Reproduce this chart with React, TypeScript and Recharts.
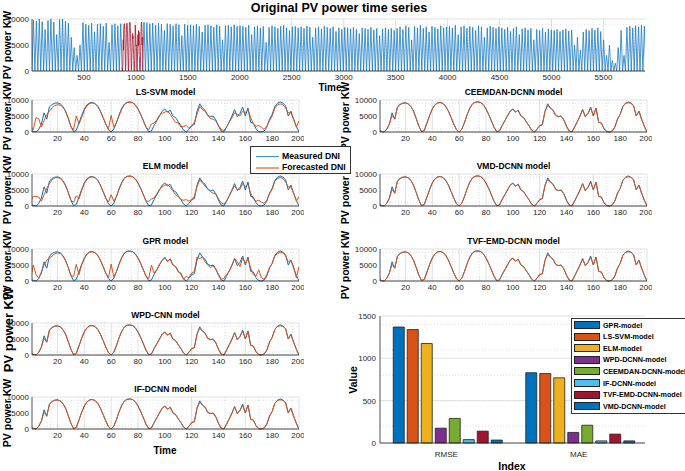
import React from "react";
import { LineChart, Line, XAxis, YAxis, CartesianGrid, BarChart, Bar } from "recharts";

const FONT = '"Liberation Sans", Arial, Helvetica, sans-serif';
const INK = "#262626";
const BLUE = "#0072BD";
const ORANGE = "#D95319";
const DARK_RED = "#A2142F";

// ---- original series: one peak per day (night goes back to 0) ----
const DAY = 28;
const TEST_START = 868;
const peaksBefore = [
  9800, 9600, 10000, 9500, 8000, 9700, 10000, 9400, 7000, 9900, 10000, 9600, 9200, 6500, 4500, 3000,
  5000, 9300, 9000, 8800, 9200, 7500, 9000, 9100, 8600, 9200, 5500, 8900, 9100, 8700, 9100,
];
const peaksAfter = [
  9400, 9300, 9100, 9200, 8800, 9200, 9000, 7800, 9100, 9000, 8700, 9100, 8900, 6800, 9000, 8800,
  8900, 8700, 9000, 8600, 7500, 8800, 8900, 8700, 8400, 8900, 8600, 6000, 8700, 8800, 8500, 8900, 8600, 8700,
  8600, 8400, 8800, 7000, 8500, 8700, 8300, 8600, 5500, 8400, 8700, 8500, 8200, 8600, 8800, 8300, 7800, 8500,
  8600, 8300, 8500, 8200, 8700, 8400, 6500, 8300, 8500, 8100, 8600, 8400, 8200, 8500, 7600, 8300, 8000, 8400,
  8300, 8100, 8400, 8000, 7200, 8300, 8200, 8000, 8400, 7900, 8200, 6800, 8100, 8300, 8000, 8200, 7800,
  8200, 8500, 8000, 8700, 8400, 6000, 8600, 8300, 8800, 8200, 8500, 7500, 8600, 8400, 8100, 8700, 8300, 8500,
  8600, 8300, 8800, 7000, 8500, 8700, 8200, 8600, 8400, 7800, 8700, 8500, 6500, 8300, 8600, 8400, 8200, 8500,
  8300, 8000, 8400, 7600, 8200, 8500, 7000, 8100, 8300, 7900, 8200, 6000, 8000, 7800, 8200, 7500, 8100, 7900,
  7800, 8000, 7600, 7900, 8100, 7700, 7900, 5000, 6500, 4000, 7500,
  8000, 7800, 8200, 7900, 8300, 7600, 6000,
  3000, 5000, 2000, 1500, 4500, 7800, 3000,
  8400, 8600, 8300, 8700, 8500, 8800, 8600,
];

// ---- 200-step test window (sampled every 2 steps) ----
const testTime = Array.from({ length: 101 }, (_, i) => i * 2);
const measured = [
  600, 200, 0, 800, 2500, 6000, 4000, 7800, 8600, 9000, 9100, 8800, 8000, 6500, 4200, 1800, 100,
  500, 2800, 5200, 7200, 8500, 9100, 9200, 8900, 8000, 6500, 4500, 2500, 700, 0,
  900, 3000, 5500, 7500, 8800, 9300, 9400, 9200, 8500, 7200, 5500, 3500, 1500, 100,
  300, 2000, 3500, 5000, 6500, 7200, 6200, 6800, 5000, 4500, 3200, 2000, 600, 0,
  800, 2000, 2300, 6500, 8800, 7500, 6800, 5200, 4800, 5000, 3800, 1800, 300, 0,
  1500, 3200, 5000, 7000, 4800, 5800, 7800, 5000, 7500, 3000, 2800, 1000, 100, 0,
  300, 1500, 4000, 5500, 8000, 9000, 9400, 9000, 8200, 5000, 6500, 4000, 1800, 0,
];
const lssvmForecast = [
  1200, 800, 4500, 4200, 1500, 3500, 5500, 6500, 7500, 8300, 8500, 8400, 7800, 6500, 4500, 1500, 800,
  5000, 2500, 4500, 6800, 8200, 8900, 9100, 8800, 8000, 6500, 4500, 2500, 1000, 5200,
  1500, 3000, 5200, 7200, 8600, 9200, 9300, 9100, 8400, 7200, 5500, 3500, 1500, 800,
  2500, 2800, 3800, 5200, 5800, 6200, 6500, 5500, 4200, 3000, 2800, 1500, 1800, 2000,
  1200, 1800, 3000, 5500, 8000, 7000, 6500, 5200, 4200, 4000, 3500, 2000, 800, 500,
  1500, 3000, 4500, 6000, 5500, 5000, 6500, 6000, 7000, 4500, 2500, 1800, 2000, 1500,
  800, 1800, 3500, 5000, 7500, 8500, 8800, 8500, 7500, 6000, 6000, 4000, 1500, 3500,
];
const elmForecast = [
  1500, 3000, 3000, 2800, 1500, 3500, 5500, 7000, 8200, 8800, 8900, 8600, 7800, 6300, 4300, 1800, 1200,
  3200, 2200, 4800, 7000, 8300, 9000, 9100, 8800, 8000, 6500, 4500, 2500, 1200, 3500,
  1500, 3000, 5300, 7300, 8700, 9200, 9300, 9100, 8400, 7200, 5500, 3500, 1500, 1500,
  2200, 2500, 3800, 5200, 6000, 6500, 6800, 5800, 4800, 3500, 3000, 2000, 1800, 2000,
  1500, 2000, 3000, 6000, 8200, 7200, 6200, 5500, 4500, 4000, 3800, 2200, 1000, 600,
  1500, 3200, 4800, 6200, 5200, 5200, 7000, 6000, 6800, 4000, 2200, 1500, 1800, 1200,
  800, 1800, 3800, 5200, 7800, 8600, 8900, 8600, 7500, 6000, 6000, 4000, 1500, 3000,
];
const gprForecast = [
  800, 5000, 2000, 800, 2800, 5000, 6500, 7200, 7800, 8500, 8800, 8600, 7800, 6300, 4300, 1500, 1500,
  5200, 2000, 5000, 7000, 8400, 9000, 9100, 8800, 8000, 6500, 4500, 2500, 1000, 5300,
  1200, 3000, 5300, 7300, 8700, 9200, 9300, 9100, 8400, 7200, 5500, 3500, 1500, 800,
  5000, 2500, 3500, 5200, 6500, 7500, 6000, 7000, 5000, 4500, 2800, 2500, 500, 1500,
  1000, 2500, 3000, 7500, 7000, 7500, 6000, 5000, 4200, 4800, 3500, 2200, 500, 800,
  2000, 3000, 4800, 7000, 6000, 4500, 7200, 5500, 7000, 4000, 2000, 1500, 3500, 1000,
  500, 2000, 4200, 5500, 7800, 8600, 8900, 8800, 7800, 6000, 6500, 4500, 1000, 4500,
];
// decomposition-based models follow the measured curve almost exactly
const decompForecast = [
  600, 200, 0, 800, 2500, 5200, 4000, 7800, 8600, 9000, 9100, 8800, 8000, 6500, 4200, 1800, 100,
  500, 2800, 5200, 7200, 8500, 9100, 9200, 8900, 8000, 6500, 4500, 2500, 700, 0,
  900, 3000, 5500, 7500, 8800, 9300, 9400, 9200, 8500, 7200, 5500, 3500, 1500, 100,
  300, 2000, 3500, 5000, 6500, 7100, 6200, 6800, 5000, 4500, 3200, 2000, 600, 0,
  800, 2000, 2300, 6500, 8300, 7500, 6800, 5200, 4800, 5000, 3800, 1800, 300, 0,
  1500, 3200, 4800, 7000, 4800, 5800, 7400, 5000, 7500, 3000, 2800, 1000, 100, 0,
  300, 1500, 4000, 5500, 8000, 9000, 9100, 9000, 8200, 5000, 6500, 4000, 1800, 0,
];

// ---- error bars ----
const metricNames = ["RMSE", "MAE"];
const modelKeys = ["gpr", "lssvm", "elm", "wpd", "ceemdan", "ifdcnn", "tvf", "vmd"];
const modelNames = [
  "GPR-model", "LS-SVM-model", "ELM-model", "WPD-DCNN-model",
  "CEEMDAN-DCNN-model", "IF-DCNN-model", "TVF-EMD-DCNN-model", "VMD-DCNN-model",
];
const rmseValues = [1370, 1340, 1175, 175, 290, 40, 140, 35];
const maeValues = [830, 820, 770, 125, 210, 25, 105, 25];
const modelColors = ["#0072BD", "#D95319", "#EDB120", "#7E2F8E", "#77AC30", "#4DBEEE", "#A2142F", "#0072BD"];

const topXTicks = [500, 1000, 1500, 2000, 2500, 3000, 3500, 4000, 4500, 5000, 5500];
const smallXTicks = [20, 40, 60, 80, 100, 120, 140, 160, 180, 200];
const powerTicks = [0, 5000, 10000];
const valueTicks = [0, 500, 1000, 1500];

const range = (a: number, b: number, s: number) => {
  const out: number[] = [];
  for (let v = a; v <= b + 1e-9; v += s) out.push(v);
  return out;
};

function dailyRows(peaks: number[], firstDay: number) {
  const rows: { t: number; v: number }[] = [];
  peaks.forEach((p, k) => {
    const t0 = (firstDay + k) * DAY;
    rows.push({ t: t0, v: 0 }, { t: t0 + DAY / 2, v: p });
  });
  rows.push({ t: (firstDay + peaks.length) * DAY, v: 0 });
  return rows;
}

const AXW = 40;
const PAD = 5;
const XH = 16;
const tickStyle = { fontSize: 8, fill: INK, fontFamily: FONT };

type Box = { x: number; y: number; w: number; h: number };

const frameAxes = () => [
  <XAxis key="fx" xAxisId="frame" orientation="top" type="number" domain={[0, 1]} height={0} tick={false} tickLine={false} axisLine={{ stroke: INK, strokeWidth: 0.8 }} />,
  <YAxis key="fy" yAxisId="frame" orientation="right" type="number" domain={[0, 1]} width={0} tick={false} tickLine={false} axisLine={{ stroke: INK, strokeWidth: 0.8 }} />,
];

const grids = (xMinor: number[], yMinor: number[], xMajor: number[], yMajor: number[]) => [
  <CartesianGrid key="gmin" stroke="#c8c8c8" strokeWidth={0.6} strokeDasharray="1 2" verticalValues={xMinor} horizontalValues={yMinor} />,
  <CartesianGrid key="gmaj" stroke="#d9d9d9" strokeWidth={0.8} verticalValues={xMajor} horizontalValues={yMajor} />,
];

function Txt({ x, y, size, bold = true, rotate = false, children }: { x: number; y: number; size: number; bold?: boolean; rotate?: boolean; children: React.ReactNode }) {
  return (
    <div
      style={{
        position: "absolute",
        left: x,
        top: y,
        fontSize: size,
        fontWeight: bold ? "bold" : "normal",
        lineHeight: 1,
        whiteSpace: "nowrap",
        color: "#000",
        transform: `translate(-50%, -50%)${rotate ? " rotate(-90deg)" : ""}`,
      }}
    >
      {children}
    </div>
  );
}

function SmallPanel({ box, title, forecast }: { box: Box; title: string; forecast: number[] }) {
  const rows = testTime.map((t, i) => ({ t, measured: measured[i], forecast: forecast[i] }));
  return (
    <>
      <Txt x={box.x + box.w / 2} y={box.y - 8} size={8.5}>{title}</Txt>
      <div style={{ position: "absolute", left: box.x - AXW, top: box.y - PAD }}>
        <LineChart width={AXW + box.w + PAD} height={PAD + box.h + XH} data={rows} margin={{ top: PAD, right: PAD, bottom: 0, left: 0 }}>
          {grids(range(5, 195, 5), range(1000, 9000, 1000), smallXTicks, powerTicks)}
          <XAxis dataKey="t" type="number" domain={[1, 200]} allowDataOverflow ticks={smallXTicks} height={XH} tickLine={false} tickSize={0} tickMargin={3} tick={tickStyle} axisLine={{ stroke: INK, strokeWidth: 0.8 }} />
          <YAxis type="number" domain={[0, 10000]} ticks={powerTicks} width={AXW} tickLine={false} tickSize={0} tickMargin={3} tick={tickStyle} axisLine={{ stroke: INK, strokeWidth: 0.8 }} />
          {frameAxes()}
          <Line dataKey="measured" stroke={BLUE} strokeWidth={1} dot={false} isAnimationActive={false} />
          <Line dataKey="forecast" stroke={ORANGE} strokeWidth={1} dot={false} isAnimationActive={false} />
        </LineChart>
      </div>
    </>
  );
}

function TopPanel() {
  const box: Box = { x: 32, y: 19, w: 613, h: 52 };
  const before = dailyRows(peaksBefore, 0);
  const after = dailyRows(peaksAfter, 38);
  const test = testTime.map((t, i) => ({ t: TEST_START + t, v: measured[i] }));
  return (
    <div style={{ position: "absolute", left: box.x - AXW, top: box.y - PAD }}>
      <LineChart width={AXW + box.w + PAD} height={PAD + box.h + XH} margin={{ top: PAD, right: PAD, bottom: 0, left: 0 }}>
        {grids(range(100, 5800, 100), range(1000, 9000, 1000), topXTicks, powerTicks)}
        <XAxis dataKey="t" type="number" domain={[0, 5900]} allowDataOverflow ticks={topXTicks} height={XH} tickLine={false} tickSize={0} tickMargin={3} tick={tickStyle} axisLine={{ stroke: INK, strokeWidth: 0.8 }} />
        <YAxis type="number" domain={[0, 10000]} ticks={powerTicks} width={AXW} tickLine={false} tickSize={0} tickMargin={3} tick={tickStyle} axisLine={{ stroke: INK, strokeWidth: 0.8 }} />
        {frameAxes()}
        <Line data={before} dataKey="v" stroke="#1A7CC4" strokeWidth={0.8} dot={false} isAnimationActive={false} />
        <Line data={after} dataKey="v" stroke="#1A7CC4" strokeWidth={0.8} dot={false} isAnimationActive={false} />
        <Line data={test} dataKey="v" stroke={DARK_RED} strokeWidth={0.8} dot={false} isAnimationActive={false} />
      </LineChart>
    </div>
  );
}

function ErrorBars() {
  const box: Box = { x: 380, y: 316, w: 265, h: 127 };
  const rows = metricNames.map((name, j) => {
    const values = j === 0 ? rmseValues : maeValues;
    const row: Record<string, string | number> = { name };
    modelKeys.forEach((k, i) => (row[k] = values[i]));
    return row;
  });
  return (
    <div style={{ position: "absolute", left: box.x - AXW, top: box.y - PAD }}>
      <BarChart width={AXW + box.w + PAD} height={PAD + box.h + 20} data={rows} margin={{ top: PAD, right: PAD, bottom: 0, left: 0 }} barCategoryGap="10%" barGap={3}>
        <CartesianGrid stroke="#c8c8c8" strokeWidth={0.6} strokeDasharray="1 2" vertical={false} horizontalValues={range(100, 1400, 100)} />
        <CartesianGrid stroke="#d9d9d9" strokeWidth={0.8} vertical={false} horizontalValues={valueTicks} />
        <XAxis dataKey="name" height={20} tickLine={false} tickSize={0} tickMargin={8} tick={tickStyle} axisLine={{ stroke: INK, strokeWidth: 0.8 }} />
        <YAxis type="number" domain={[0, 1500]} ticks={valueTicks} width={AXW} tickLine={false} tickSize={0} tickMargin={4} tick={tickStyle} axisLine={{ stroke: INK, strokeWidth: 0.8 }} />
        {frameAxes()}
        {modelKeys.map((k, i) => (
          <Bar key={k} dataKey={k} fill={modelColors[i]} stroke="#222" strokeWidth={0.8} isAnimationActive={false} />
        ))}
      </BarChart>
    </div>
  );
}

const leftBoxes: Box[] = [
  { x: 32, y: 100, w: 267, h: 32 },
  { x: 32, y: 174, w: 267, h: 32 },
  { x: 32, y: 249, w: 267, h: 32 },
  { x: 32, y: 323, w: 267, h: 32 },
  { x: 32, y: 397, w: 267, h: 32 },
];
const rightBoxes: Box[] = [
  { x: 380, y: 100, w: 267, h: 32 },
  { x: 380, y: 174, w: 267, h: 32 },
  { x: 380, y: 249, w: 267, h: 32 },
];

export default function App() {
  return (
    <div style={{ position: "absolute", left: 0, top: 0, width: 685, height: 471, overflow: "hidden", background: "#fff", fontFamily: FONT }}>
      <Txt x={339} y={8} size={12.5}>Original PV power time series</Txt>
      <TopPanel />
      <Txt x={330} y={88} size={10}>Time</Txt>

      {/* left axis labels, overlapping as in the source figure */}
      <Txt x={7} y={45} size={10.5} rotate>PV power KW</Txt>
      <Txt x={7} y={116} size={10.5} rotate>PV power KW</Txt>
      <Txt x={7} y={190} size={10.5} rotate>PV power KW</Txt>
      <Txt x={7} y={265} size={10.5} rotate>PV power KW</Txt>
      <Txt x={8} y={330} size={13} rotate>PV power KW</Txt>
      <Txt x={7} y={413} size={10.5} rotate>PV power KW</Txt>
      <Txt x={345} y={116} size={10.5} rotate>PV power KW</Txt>
      <Txt x={345} y={190} size={10.5} rotate>PV power KW</Txt>
      <Txt x={345} y={265} size={10.5} rotate>PV power KW</Txt>

      <SmallPanel box={leftBoxes[0]} title="LS-SVM model" forecast={lssvmForecast} />
      <SmallPanel box={leftBoxes[1]} title="ELM model" forecast={elmForecast} />
      <SmallPanel box={leftBoxes[2]} title="GPR model" forecast={gprForecast} />
      <SmallPanel box={leftBoxes[3]} title="WPD-CNN model" forecast={decompForecast} />
      <SmallPanel box={leftBoxes[4]} title="IF-DCNN model" forecast={decompForecast} />
      <Txt x={165} y={451} size={10}>Time</Txt>

      <SmallPanel box={rightBoxes[0]} title="CEEMDAN-DCNN model" forecast={decompForecast} />
      <SmallPanel box={rightBoxes[1]} title="VMD-DCNN model" forecast={decompForecast} />
      <SmallPanel box={rightBoxes[2]} title="TVF-EMD-DCNN model" forecast={decompForecast} />

      {/* series legend */}
      <div style={{ position: "absolute", left: 250, top: 146, width: 101, height: 28, border: "1px solid #333", background: "#fff", boxSizing: "border-box" }}>
        <div style={{ position: "absolute", left: 5, top: 9, width: 23, height: 1.2, background: "#3D98DA" }} />
        <div style={{ position: "absolute", left: 5, top: 20, width: 23, height: 2, background: "#EE9F77" }} />
        <div style={{ position: "absolute", left: 31, top: 5, fontSize: 8.7, fontWeight: "bold", lineHeight: 1 }}>Measured DNI</div>
        <div style={{ position: "absolute", left: 31, top: 16, fontSize: 8.7, fontWeight: "bold", lineHeight: 1 }}>Forecasted DNI</div>
      </div>

      <ErrorBars />
      <Txt x={353} y={380} size={10.5} rotate>Value</Txt>
      <Txt x={512} y={466} size={10.5}>Index</Txt>

      {/* bar legend */}
      <div style={{ position: "absolute", left: 571, top: 318, width: 125, height: 96, border: "1px solid #333", background: "#fff", boxSizing: "border-box" }}>
        {modelNames.map((name, i) => (
          <div key={name}>
            <div style={{ position: "absolute", left: 2, top: 2 + i * 11.6, width: 26, height: 8, background: modelColors[i], border: "1px solid #222", boxSizing: "border-box" }} />
            <div style={{ position: "absolute", left: 31, top: 2.5 + i * 11.6, fontSize: 7.2, fontWeight: "bold", lineHeight: 1 }}>{name}</div>
          </div>
        ))}
      </div>
    </div>
  );
}
